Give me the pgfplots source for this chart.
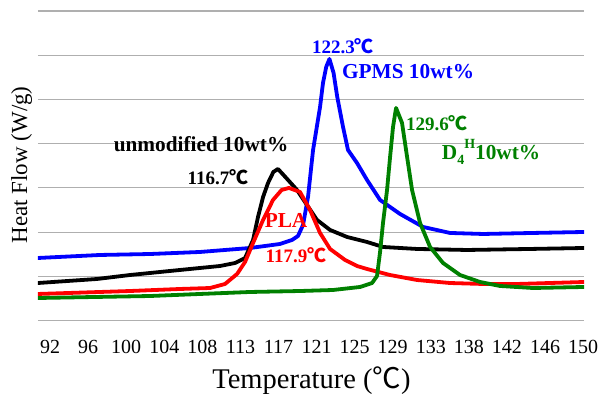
\documentclass[border=0pt]{standalone}
\usepackage{fontspec}
\setmainfont{Liberation Serif}
\newfontfamily\cjk{Noto Sans CJK SC}
\usepackage{pgfplots}
\pgfplotsset{compat=1.18}
\newcommand{\dc}{{\cjk ℃}}
\definecolor{grd}{RGB}{175,175,175}
\definecolor{dgreen}{RGB}{0,128,0}
\begin{document}
\begin{tikzpicture}
\begin{axis}[
 at={(0,0)}, anchor=south west,
 scale only axis, width=546bp, height=309.5bp,
 xmin=90.69, xmax=150.1, ymin=0, ymax=7,
 axis line style={draw=none},
 major tick length=0pt,
 ytick={0,1,...,7}, yticklabels={},
 ymajorgrids, grid style={grd, line width=1.1bp},
 xtick={92,96.142857,100.285714,104.428571,108.571429,112.714286,116.857143,121,125.142857,129.285714,133.428571,137.571429,141.714286,145.857143,150},
 xticklabels={92,96,100,104,108,113,117,121,125,129,133,138,142,146,150},
 /pgf/number format/assume math mode=true,
 xticklabel style={font=\fontsize{20bp}{24bp}\selectfont, anchor=base, yshift=-32.8bp},
 xlabel={Temperature (\dc)},
 xlabel style={font=\fontsize{28.5bp}{33bp}\selectfont, at={(axis description cs:0.5009,-0.2190)}, anchor=base},
 ylabel={Heat Flow (W/g)},
 ylabel style={font=\fontsize{23bp}{27bp}\selectfont, at={(axis description cs:-0.0201,0.5024)}, anchor=base},
 every axis plot/.append style={line width=3.8bp, line join=round, line cap=round},
]
% GPMS 10wt%
\addplot[blue] coordinates {
(90.69,1.414) (97.44,1.482) (102.88,1.504) (108.32,1.550) (113.76,1.640)
(117.03,1.731) (118.33,1.821) (118.98,1.912) (119.53,2.161) (120.07,2.794)
(120.62,3.857) (121.38,4.830) (121.70,5.373) (122.05,5.735) (122.40,5.916)
(122.85,5.600) (123.25,5.057) (123.88,4.378) (124.42,3.857) (125.40,3.563)
(126.49,3.179) (127.91,2.726) (130.08,2.410) (132.59,2.116) (135.52,1.980)
(139.12,1.957) (144.55,1.980) (150.10,2.002)};
% unmodified 10wt%
\addplot[black] coordinates {
(90.69,0.848) (97.11,0.939) (100.70,1.029) (106.15,1.143) (110.50,1.233)
(112.13,1.301) (113.22,1.414) (114.09,1.821) (114.63,2.342) (115.18,2.794)
(115.72,3.111) (116.30,3.360) (116.80,3.428) (117.60,3.247) (118.87,2.953)
(119.96,2.613) (121.05,2.274) (122.47,2.048) (124.32,1.889) (126.49,1.776)
(128.23,1.663) (131.93,1.618) (137.37,1.595) (144.23,1.618) (150.10,1.640)};
% PLA
\addplot[red] coordinates {
(90.69,0.600) (100.70,0.667) (106.15,0.713) (109.41,0.735) (111.04,0.826)
(112.35,1.052) (113.22,1.324) (114.09,1.753) (115.18,2.274) (116.26,2.726)
(117.20,2.953) (118.00,2.998) (119.20,2.907) (120.29,2.500) (121.38,1.980)
(122.47,1.618) (124.10,1.369) (125.40,1.233) (126.49,1.165) (128.99,1.029)
(131.93,0.916) (135.52,0.848) (139.12,0.826) (142.81,0.826) (150.10,0.871)};
% D4H 10wt%
\addplot[dgreen] coordinates {
(90.69,0.509) (102.88,0.554) (108.32,0.600) (113.76,0.645) (119.20,0.667)
(122.79,0.690) (125.73,0.758) (127.04,0.848) (127.58,1.007) (127.91,1.550)
(128.23,2.206) (128.67,2.953) (129.00,3.699) (129.32,4.378) (129.65,4.808)
(130.30,4.468) (130.85,3.699) (131.39,2.953) (132.26,2.206) (133.35,1.663)
(134.76,1.301) (136.61,1.029) (138.79,0.871) (140.96,0.781) (144.55,0.735)
(150.10,0.758)};
\node[font=\bfseries\fontsize{21.3bp}{24bp}\selectfont, black] at (axis cs:108.43,3.99) {unmodified 10wt\%};
\node[font=\bfseries\fontsize{19bp}{22bp}\selectfont, black] at (axis cs:110.28,3.25) {116.7\dc};
\node[font=\bfseries\fontsize{19bp}{22bp}\selectfont, blue] at (axis cs:123.88,6.21) {122.3\dc};
\node[font=\bfseries\fontsize{21.3bp}{24bp}\selectfont, blue] at (axis cs:130.96,5.62) {GPMS 10wt\%};
\node[font=\bfseries\fontsize{19bp}{22bp}\selectfont, dgreen] at (axis cs:134.11,4.47) {129.6\dc};
\node[font=\bfseries\fontsize{21.3bp}{24bp}\selectfont, dgreen] at (axis cs:139.99,3.81) {D\raisebox{-0.25em}{\fontsize{14bp}{15bp}\selectfont 4}\raisebox{0.5em}{\fontsize{14bp}{15bp}\selectfont H}10wt\%};
\node[font=\bfseries\fontsize{21.3bp}{24bp}\selectfont, red] at (axis cs:117.68,2.27) {PLA};
\node[font=\bfseries\fontsize{19bp}{22bp}\selectfont, red] at (axis cs:118.77,1.48) {117.9\dc};
\end{axis}
\pgfresetboundingbox
\path[use as bounding box] (-38bp,-73.5bp) rectangle (563bp,320.5bp);
\end{tikzpicture}
\end{document}
